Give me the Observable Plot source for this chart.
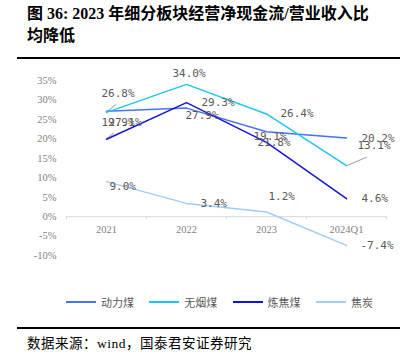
<!DOCTYPE html>
<html>
<head>
<meta charset="utf-8">
<script src="https://cdn.jsdelivr.net/npm/d3@7"></script>
<script src="https://cdn.jsdelivr.net/npm/@observablehq/plot@0.6"></script>
<style>
  html, body { margin: 0; padding: 0; background: #fff; }
  #page { position: relative; width: 417px; height: 355px; overflow: hidden; }
  #title { position: absolute; left: 27px; top: 3px; font-family: "Liberation Serif", "Noto Sans CJK SC", serif; font-weight: bold; font-size: 16px; line-height: 22px; color: #000; white-space: nowrap; }
  .rule { position: absolute; left: 17px; width: 383px; height: 1.5px; background: #000; }
  #chart { position: absolute; left: 0; top: 60px; }
  .leg { position: absolute; top: 295px; height: 14px; display: flex; align-items: center; font-family: "Noto Sans CJK SC", sans-serif; font-size: 11px; color: #595959; }
  .leg span.sw { display: inline-block; width: 30px; height: 2px; margin-right: 5px; }
  #source { position: absolute; left: 27px; top: 332px; font-family: "Liberation Serif", "Noto Sans CJK SC", serif; font-size: 13.5px; color: #000; white-space: nowrap; letter-spacing: 0.5px; }
</style>
</head>
<body>
<div id="page">
  <div id="title">图 36: 2023 年细分板块经营净现金流/营业收入比<br>均降低</div>
  <div class="rule" style="top:57px"></div>
  <div id="chart"></div>
  <div id="legend"></div>
  <div class="rule" style="top:327px"></div>
  <div id="source">数据来源：wind，国泰君安证券研究</div>
</div>
<script>
// ---- data ----
const categories = ["2021", "2022", "2023", "2024Q1"];
const seriesNames = ["动力煤", "无烟煤", "炼焦煤", "焦炭"];
const thermalCoal = [27.1, 27.9, 21.8, 20.2];
const anthracite = [26.8, 34.0, 26.4, 13.1];
const cokingCoal = [19.9, 29.3, 19.1, 4.6];
const coke = [9.0, 3.4, 1.2, -7.4];
const yTicks = [-10, -5, 0, 5, 10, 15, 20, 25, 30, 35];

// ---- styling ----
const colors = ["#4472f4", "#1cc6ef", "#1414d8", "#9dcdf8"];
// label offsets [dx, dy] in px, per series, per category
const labelOffsets = [
  [[2, 11], [-1, 7.5], [-9, 11], [15, 0]],
  [[-5, -19], [-14, -11], [14, 0], [11, -20]],
  [[-5, -16.5], [15, 0], [-13, -6], [15, 0]],
  [[3, 5], [14, 0], [2, -15.5], [14, 0]]
];
// leader lines: [series, category index, length, rotate]
const leaders = [[1, 0, 15.5, 50], [2, 0, 12, 48], [1, 3, 28, 67]];

const allSeries = [thermalCoal, anthracite, cokingCoal, coke];
const rows = [];
allSeries.forEach((vals, s) => vals.forEach((v, i) => rows.push({series: seriesNames[s], s, i, x: categories[i], y: v})));

const marks = [];
marks.push(Plot.axisY({ticks: yTicks, tickSize: 0, tickPadding: 10, tickFormat: d => d + "%", fontFamily: "Liberation Serif", fontSize: 10.5, label: null}));
marks.push(Plot.ruleY([0], {stroke: "#d9d9d9", strokeWidth: 1}));
marks.push(Plot.ruleX(categories, {x: d => d, dx: -40, y1: 0, y2: -0.8, stroke: "#d9d9d9"}));
marks.push(Plot.ruleX(categories.slice(-1), {x: d => d, dx: 40, y1: 0, y2: -0.8, stroke: "#d9d9d9"}));
marks.push(Plot.text(categories, {x: d => d, y: () => 0, dy: 13, text: d => d, fontFamily: "Liberation Serif", fontSize: 10.5, fill: "#7f7f7f"}));

const lineShape = {draw(context, l) { context.moveTo(0, 0); context.lineTo(0, -l); }};
leaders.forEach(([s, i, len, rot]) => {
  marks.push(Plot.vector([{x: categories[i], y: allSeries[s][i]}], {x: "x", y: "y", length: () => len, rotate: () => rot, anchor: "start", shape: lineShape, stroke: "#a6a6a6", strokeWidth: 1}));
});

seriesNames.forEach((name, s) => {
  marks.push(Plot.line(rows.filter(r => r.s === s), {x: "x", y: "y", stroke: colors[s], strokeWidth: 1.5}));
});

rows.forEach(r => {
  const [dx, dy] = labelOffsets[r.s][r.i];
  marks.push(Plot.text([r], {x: "x", y: "y", text: d => d.y.toFixed(1) + "%", dx, dy, textAnchor: "start", fontFamily: "DejaVu Sans Mono", fontSize: 11, fill: "#595959"}));
});

const chart = Plot.plot({
  width: 417,
  height: 220,
  marginLeft: 66,
  marginRight: 31,
  marginTop: 20,
  marginBottom: 25,
  style: {background: "transparent", color: "#7f7f7f", fontFamily: "Liberation Serif", fontSize: "10.5px"},
  x: {type: "band", domain: categories, padding: 0, axis: null},
  y: {domain: [-10, 35], axis: null, label: null},
  marks
});
document.getElementById("chart").appendChild(chart);

// legend
const legend = document.getElementById("legend");
seriesNames.forEach((name, s) => {
  const item = document.createElement("div");
  item.className = "leg";
  item.style.left = (66 + s * 83.3) + "px";
  item.innerHTML = `<span class="sw" style="background:${colors[s]}"></span>${name}`;
  legend.appendChild(item);
});
</script>
</body>
</html>
